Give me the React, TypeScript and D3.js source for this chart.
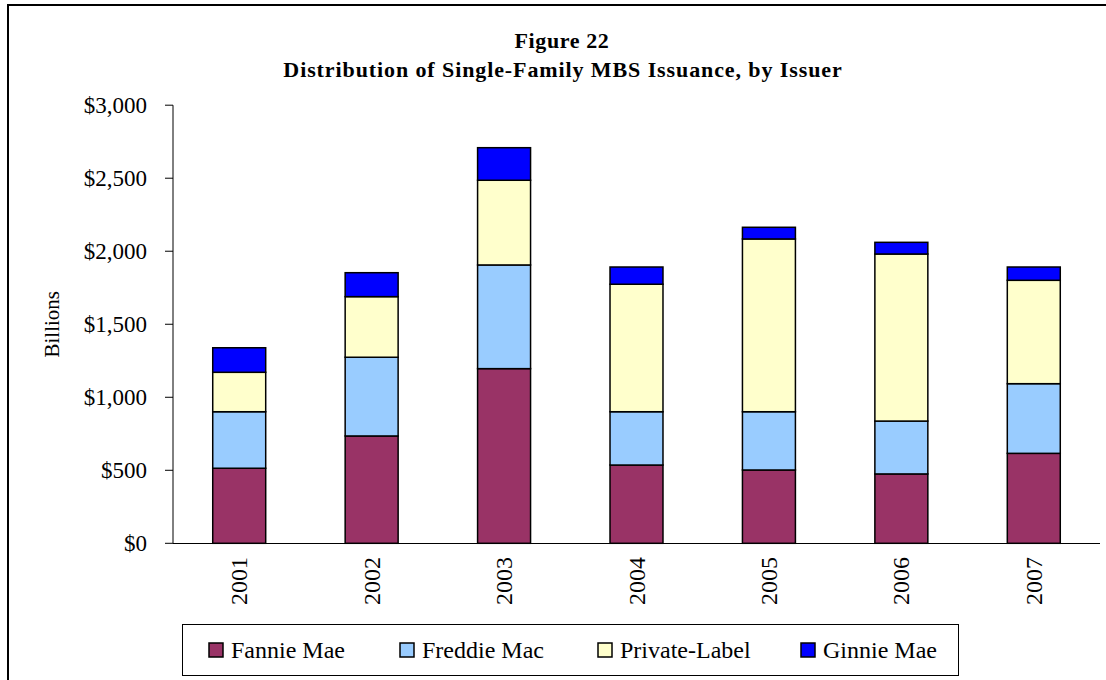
import React from "react";
import * as d3 from "d3";

const years = ["2001", "2002", "2003", "2004", "2005", "2006", "2007"];
const seriesNames = ["Fannie Mae", "Freddie Mac", "Private-Label", "Ginnie Mae"];
const fannieMae = [514, 735, 1196, 536, 502, 475, 616];
const freddieMac = [387, 539, 710, 365, 399, 362, 477];
const privateLabel = [270, 415, 580, 873, 1183, 1144, 708];
const ginnieMae = [168, 164, 223, 118, 80, 80, 91];
const yTicks = [0, 500, 1000, 1500, 2000, 2500, 3000];
const colors = ["#993366", "#99CCFF", "#FFFFCC", "#0000FF"];

const W = 1106;
const H = 680;
const FONT = "'Liberation Serif', 'Times New Roman', serif";

export default function App() {
  const rows = years.map((y, i) => ({
    year: y,
    "Fannie Mae": fannieMae[i],
    "Freddie Mac": freddieMac[i],
    "Private-Label": privateLabel[i],
    "Ginnie Mae": ginnieMae[i],
  }));
  const stacked = d3.stack<any>().keys(seriesNames)(rows);

  const x = d3
    .scaleBand<string>()
    .domain(years)
    .range([173, 1100])
    .paddingInner(0.6)
    .paddingOuter(0.3);
  const y = d3.scaleLinear().domain([0, 3000]).range([543.3, 105.2]);
  const fmt = (v: number) => "$" + d3.format(",")(v);

  const legendX = [209, 400, 598, 801];

  return (
    <svg
      width={W}
      height={H}
      style={{ position: "absolute", left: 0, top: 0, background: "#fff" }}
      fontFamily={FONT}
    >
      <rect x={0} y={0} width={W} height={H} fill="#fff" />
      {/* outer frame */}
      <path d={`M8,${H + 5} L8,5 L${W + 5},5`} fill="none" stroke="#000" strokeWidth={2} />

      {/* title */}
      <text x={562} y={48} textAnchor="middle" fontSize={22} fontWeight="bold" letterSpacing={0.6}>
        Figure 22
      </text>
      <text x={563} y={77} textAnchor="middle" fontSize={22} fontWeight="bold" letterSpacing={0.9}>
        Distribution of Single-Family MBS Issuance, by Issuer
      </text>

      {/* y axis */}
      <line x1={173} x2={173} y1={y(3000)} y2={y(0)} stroke="#000" strokeWidth={1} />
      {yTicks.map((t) => (
        <g key={t}>
          <line x1={165} x2={173} y1={y(t)} y2={y(t)} stroke="#000" strokeWidth={1} />
          <text x={147} y={y(t) + 8} textAnchor="end" fontSize={23}>
            {fmt(t)}
          </text>
        </g>
      ))}
      <text
        transform={`translate(59,${(y(0) + y(3000)) / 2}) rotate(-90)`}
        textAnchor="middle"
        fontSize={21}
      >
        Billions
      </text>

      {/* bars */}
      {stacked.map((s, si) => (
        <g key={s.key}>
          {s.map((d, i) => (
            <rect
              key={i}
              x={x(years[i])}
              y={y(d[1])}
              width={x.bandwidth()}
              height={y(d[0]) - y(d[1])}
              fill={colors[si]}
              stroke="#000"
              strokeWidth={1.5}
            />
          ))}
        </g>
      ))}

      {/* x axis */}
      <line x1={173} x2={1100} y1={543.5} y2={543.5} stroke="#000" strokeWidth={1} />
      {years.map((yr) => (
        <text
          key={yr}
          transform={`translate(${(x(yr) as number) + x.bandwidth() / 2 + 8},557) rotate(-90)`}
          textAnchor="end"
          fontSize={24}
        >
          {yr}
        </text>
      ))}

      {/* legend */}
      <rect x={182.5} y={624.5} width={776} height={51} fill="#fff" stroke="#000" strokeWidth={1} />
      {seriesNames.map((n, i) => (
        <g key={n}>
          <rect
            x={legendX[i]}
            y={643}
            width={14}
            height={14}
            fill={colors[i]}
            stroke="#000"
            strokeWidth={1.5}
          />
          <text x={legendX[i] + 22} y={658} fontSize={24}>
            {n}
          </text>
        </g>
      ))}
    </svg>
  );
}
